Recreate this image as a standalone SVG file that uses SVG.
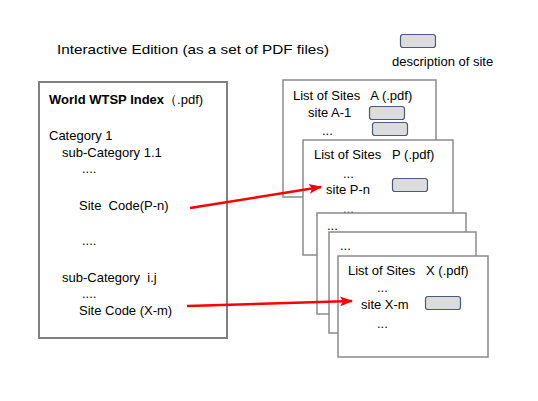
<svg xmlns="http://www.w3.org/2000/svg" width="538" height="401" viewBox="0 0 538 401">
<defs>
<style>
text{font-family:"Liberation Sans",Arial,sans-serif;font-size:13px;fill:#000;white-space:pre}
.page{fill:#fff;stroke:#8a8a8a;stroke-width:1.5}
.main{fill:#fff;stroke:#808080;stroke-width:2}
.site{fill:#dcdcdc;stroke:#4a5a78;stroke-width:1.2}
.arrow{fill:none;stroke:#ff0000;stroke-width:2.5;marker-end:url(#ah)}
</style>
<marker id="ah" markerWidth="14" markerHeight="10" refX="12" refY="5" orient="auto" markerUnits="userSpaceOnUse">
<path d="M0,0 L13,5 L0,10 L3,5 Z" fill="#ff0000"/>
</marker>
</defs>
<rect width="538" height="401" fill="#fff"/>
<g id="title">
<text x="57" y="54" font-size="14" textLength="272" lengthAdjust="spacingAndGlyphs">Interactive Edition (as a set of PDF files)</text>
</g>
<g id="legend">
<rect class="site" x="400.5" y="34.5" width="35" height="13" rx="2.5"/>
<text x="392" y="66" font-size="13">description of site</text>
</g>
<g id="index">
<rect class="main" x="39" y="82" width="188" height="256"/>
<text x="49" y="104" font-weight="bold">World WTSP Index<tspan font-weight="normal">（.pdf)</tspan></text>
<text x="49" y="140">Category 1</text>
<text x="62" y="157">sub-Category 1.1</text>
<text x="82" y="173">....</text>
<text x="79" y="210">Site  Code(P-n)</text>
<text x="82" y="245">....</text>
<text x="62" y="282">sub-Category  i.j</text>
<text x="82" y="298">....</text>
<text x="79" y="315">Site Code (X-m)</text>
</g>
<g id="page-a">
<rect class="page" x="283" y="80" width="153" height="117"/>
<text x="293" y="100">List of Sites   A (.pdf)</text>
<text x="308" y="117">site A-1</text>
<text x="322" y="135">...</text>
<rect class="site" x="369.5" y="106.5" width="35" height="13" rx="2.5"/>
<rect class="site" x="372.5" y="122.5" width="35" height="13" rx="2.5"/>
</g>
<g id="page-p">
<rect class="page" x="303" y="140" width="150" height="115"/>
<text x="314" y="159">List of Sites   P (.pdf)</text>
<text x="343" y="178">...</text>
<text x="326" y="194">site P-n</text>
<text x="343" y="213">...</text>
<rect class="site" x="392.5" y="178.5" width="35" height="13" rx="2.5"/>
</g>
<g id="page-3">
<rect class="page" x="317" y="213" width="149" height="101"/>
<text x="327" y="230">...</text>
</g>
<g id="page-4">
<rect class="page" x="329" y="232" width="147" height="101"/>
<text x="340" y="250">...</text>
</g>
<g id="page-x">
<rect class="page" x="338" y="256" width="150" height="101"/>
<text x="348" y="275">List of Sites   X (.pdf)</text>
<text x="377" y="292">...</text>
<text x="361" y="309">site X-m</text>
<text x="377" y="328">...</text>
<rect class="site" x="425.5" y="296.5" width="35" height="13" rx="2.5"/>
</g>
<g id="connectors">
<line class="arrow" x1="190" y1="208" x2="321" y2="187"/>
<line class="arrow" x1="187" y1="306" x2="352" y2="301"/>
</g>
</svg>
